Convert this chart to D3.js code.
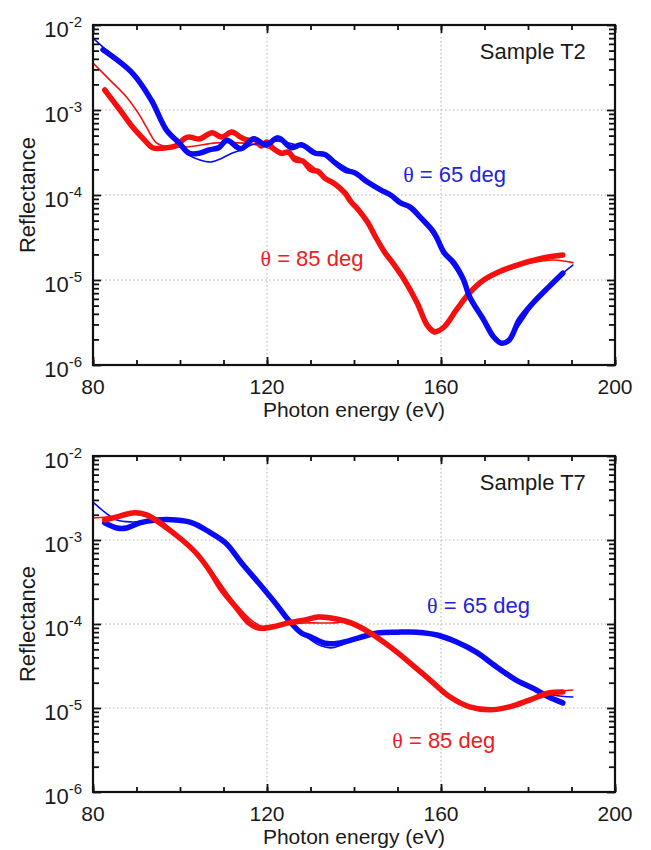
<!DOCTYPE html>
<html>
<head>
<meta charset="utf-8">
<script src="https://cdn.jsdelivr.net/npm/d3@7"></script>
<style>
body { margin: 0; background: #fff; }
text { font-family: "Liberation Sans", Arial, sans-serif; fill: #1a1a1a; }
</style>
</head>
<body>
<div id="chart"></div>
<script>

// axes
var xMajor = [80, 120, 160, 200];
var xMinor = d3.range(80, 201, 10);
var yMajor = [1e-6, 1e-5, 1e-4, 1e-3, 1e-2];
var yExp = ["-6", "-5", "-4", "-3", "-2"];

// Sample T2  -- [photon energy (eV), reflectance]
var t2_65_meas = [[82.3,5.1e-3],[89.1,2.7e-3],[93.4,1.31e-3],[96.9,5.8e-4],[99.8,4.1e-4],[102.1,3.1e-4],
  [104.4,3.1e-4],[106.7,3.4e-4],[108.9,3.6e-4],[110.8,4.4e-4],[114.0,3.5e-4],[116.9,4.6e-4],[119.7,3.9e-4],
  [122.6,4.7e-4],[125.6,3.6e-4],[127.9,3.9e-4],[131.1,3.1e-4],[133.3,3.0e-4],[135.6,2.4e-4],[137.9,1.97e-4],
  [140.2,1.82e-4],[143.1,1.42e-4],[146.1,1.15e-4],[148.4,1.0e-4],[150.7,8.1e-5],[152.9,7.2e-5],[155.2,5.5e-5],
  [158.4,3.6e-5],[160.7,2.1e-5],[163.0,1.58e-5],[165.2,1.0e-5],[166.6,6.3e-6],[169.8,3.4e-6],[172.1,2.14e-6],
  [173.9,1.8e-6],[175.7,1.97e-6],[178.0,3.4e-6],[181.2,5.4e-6],[184.8,8.3e-6],[188.0,1.2e-5]];
var t2_65_fit = [[80,7.0e-3],[82.3,5.5e-3],[89.1,2.8e-3],[93.4,1.35e-3],[96.9,6.2e-4],[99.8,4.1e-4],
  [102.1,2.95e-4],[104.4,2.6e-4],[107.3,2.45e-4],[109.6,2.7e-4],[111.9,3.1e-4],[114.2,3.4e-4],[116.5,3.9e-4],
  [118.7,4.1e-4],[122.6,4.3e-4],[127.9,3.7e-4],[133.3,2.9e-4],[140.2,1.82e-4],[148.4,1.0e-4],[155.2,5.5e-5],
  [160.7,2.1e-5],[165.2,9.5e-6],[169.8,3.2e-6],[172.8,2.0e-6],[175.0,1.87e-6],[178.0,2.95e-6],[181.9,5.8e-6],
  [185.7,9.5e-6],[190.3,1.5e-5]];
var t2_85_meas = [[82.7,1.72e-3],[86.2,1.0e-3],[89.1,6.3e-4],[91.9,4.4e-4],[93.7,3.6e-4],[96.9,3.6e-4],
  [99.1,3.8e-4],[101.0,4.6e-4],[102.1,4.8e-4],[104.4,4.57e-4],[107.4,5.4e-4],[109.6,4.8e-4],[111.9,5.5e-4],
  [114.2,4.7e-4],[115.8,4.4e-4],[117.2,4.5e-4],[118.7,3.77e-4],[119.9,4.2e-4],[121.5,3.5e-4],[123.3,3.1e-4],
  [124.9,3.2e-4],[126.5,2.6e-4],[128.3,2.5e-4],[130.1,1.97e-4],[131.7,1.9e-4],[133.3,1.58e-4],[135.6,1.35e-4],
  [137.9,1.06e-4],[139.3,8.3e-5],[140.9,6.8e-5],[143.1,4.8e-5],[144.7,3.4e-5],[147.0,2.14e-5],[148.4,1.72e-5],
  [151.6,1.0e-5],[154.5,5.4e-6],[156.8,2.95e-6],[158.4,2.45e-6],[160.7,2.8e-6],[163.6,4.5e-6],[166.6,7.1e-6],
  [169.8,1.0e-5],[174.4,1.32e-5],[178.9,1.58e-5],[183.5,1.82e-5],[188.0,1.97e-5]];
var t2_85_fit = [[80,3.57e-3],[83.9,2.25e-3],[87.7,1.42e-3],[90.7,8.7e-4],[92.3,6.3e-4],[94.6,4.1e-4],
  [96.9,3.7e-4],[102.1,3.7e-4],[108.3,4.1e-4],[113.5,4.1e-4],[117.4,3.9e-4],[123.3,3.2e-4],[128.3,2.6e-4],
  [133.3,1.63e-4],[137.9,1.08e-4],[140.9,7.0e-5],[144.7,3.5e-5],[148.4,1.8e-5],[151.6,1.03e-5],[154.5,5.5e-6],
  [156.8,3.2e-6],[158.6,2.6e-6],[160.7,2.9e-6],[163.6,4.5e-6],[169.8,9.5e-6],[178.9,1.5e-5],[185.7,1.72e-5],
  [190.3,1.6e-5]];

// Sample T7
var t7_65_meas = [[82.7,1.6e-3],[85.5,1.39e-3],[87.7,1.39e-3],[90.7,1.6e-3],[94.6,1.73e-3],[99.1,1.73e-3],
  [102.8,1.6e-3],[106.7,1.25e-3],[110.5,9.2e-4],[114.2,5.3e-4],[118.1,3.08e-4],[121.9,1.78e-4],[124.9,1.12e-4],
  [127.9,7.8e-5],[130.1,7.0e-5],[133.3,5.9e-5],[136.3,5.9e-5],[140.9,6.8e-5],[145.4,7.8e-5],[150.0,8.0e-5],
  [154.5,8.0e-5],[159.1,7.4e-5],[163.6,6.1e-5],[168.2,4.6e-5],[172.8,3.08e-5],[177.3,2.15e-5],[181.9,1.64e-5],
  [184.8,1.35e-5],[188.0,1.15e-5]];
var t7_65_fit = [[80,2.83e-3],[82.7,2.15e-3],[85.5,1.73e-3],[89.1,1.64e-3],[94.6,1.68e-3],[102.8,1.6e-3],
  [110.5,9.2e-4],[118.1,3.16e-4],[124.9,1.15e-4],[129.5,6.8e-5],[132.4,5.5e-5],[134.7,5.2e-5],[137.0,5.6e-5],
  [140.9,6.8e-5],[145.4,7.8e-5],[150.0,8.0e-5],[154.5,8.0e-5],[159.1,7.4e-5],[163.6,6.1e-5],[168.2,4.6e-5],
  [172.8,3.08e-5],[177.3,2.15e-5],[181.9,1.64e-5],[186.0,1.42e-5],[190.3,1.35e-5]];
var t7_85_meas = [[82.7,1.73e-3],[85.5,1.88e-3],[89.1,2.1e-3],[92.3,1.99e-3],[96.0,1.51e-3],[100.5,1.0e-3],
  [103.7,7.0e-4],[106.7,4.4e-4],[109.6,2.54e-4],[112.8,1.59e-4],[115.8,1.03e-4],[118.1,8.95e-5],[121.0,9.2e-5],
  [124.9,1.03e-4],[128.8,1.12e-4],[131.7,1.21e-4],[134.7,1.18e-4],[139.3,1.03e-4],[143.8,7.8e-5],[148.4,5.3e-5],
  [152.9,3.43e-5],[157.5,2.15e-5],[162.1,1.35e-5],[166.6,1.03e-5],[171.2,9.5e-6],[175.7,1.03e-5],[180.3,1.24e-5],
  [184.8,1.51e-5],[188.0,1.55e-5]];
var t7_85_fit = [[80,1.83e-3],[85.5,1.93e-3],[90.7,2.15e-3],[95.3,1.73e-3],[100.5,1.0e-3],[106.7,4.6e-4],
  [112.8,1.73e-4],[116.9,1.06e-4],[120.3,8.95e-5],[124.9,1.0e-4],[129.5,1.03e-4],[135.6,1.03e-4],[138.6,1.06e-4],
  [143.8,7.8e-5],[148.4,5.3e-5],[152.9,3.43e-5],[157.5,2.15e-5],[162.1,1.35e-5],[166.6,1.03e-5],[171.2,9.7e-6],
  [175.7,1.05e-5],[180.3,1.3e-5],[185.7,1.55e-5],[190.3,1.64e-5]];

var blue = "#0a0af5", red = "#f51010";

var panels = [
  {top: 25, bottom: 365, name: "Sample T2", nameAt: [193.3, 4.0e-3],
   series: [
     {data: t2_85_fit, color: red, w: 1.6},
     {data: t2_85_meas, color: red, w: 5.5},
     {data: t2_65_fit, color: blue, w: 1.6},
     {data: t2_65_meas, color: blue, w: 5.5}],
   notes: [{t: "65", at: [151.3, 1.42e-4], color: "#2323d8"},
           {t: "85", at: [118.5, 1.46e-5], color: "#e82024"}]},
  {top: 456, bottom: 792, name: "Sample T7", nameAt: [193.3, 3.9e-3],
   series: [
     {data: t7_65_fit, color: blue, w: 1.6},
     {data: t7_65_meas, color: blue, w: 5.5},
     {data: t7_85_fit, color: red, w: 1.6},
     {data: t7_85_meas, color: red, w: 5.5}],
   notes: [{t: "65", at: [156.8, 1.35e-4], color: "#2323d8"},
           {t: "85", at: [148.8, 3.34e-6], color: "#e82024"}]}
];

var left = 93, right = 615;

var svg = d3.select("#chart").append("svg")
    .attr("width", 651)
    .attr("height", 850);

panels.forEach(draw_panel);

function draw_panel(p) {
    var x = d3.scaleLinear().domain([80, 200]).range([left, right]);
    var y = d3.scaleLog().domain([1e-6, 1e-2]).range([p.bottom, p.top]);
    var g = svg.append("g");

    // grid
    g.selectAll(".gx").data(xMajor.slice(1, -1)).enter().append("line")
        .attr("x1", x).attr("x2", x)
        .attr("y1", p.top).attr("y2", p.bottom)
        .attr("stroke", "#b0b0b0").attr("stroke-width", 1)
        .attr("stroke-dasharray", "1.5,2.5");
    g.selectAll(".gy").data(yMajor.slice(1, -1)).enter().append("line")
        .attr("y1", y).attr("y2", y)
        .attr("x1", left).attr("x2", right)
        .attr("stroke", "#b0b0b0").attr("stroke-width", 1)
        .attr("stroke-dasharray", "1.5,2.5");

    // curves
    var line = d3.line()
        .x(function(d) { return x(d[0]); })
        .y(function(d) { return y(d[1]); })
        .curve(d3.curveCatmullRom.alpha(0.5));
    p.series.forEach(function(s) {
        g.append("path")
            .attr("d", line(s.data))
            .attr("fill", "none")
            .attr("stroke", s.color)
            .attr("stroke-width", s.w)
            .attr("stroke-linejoin", "round")
            .attr("stroke-linecap", "round");
    });

    // ticks, all pointing inward
    var yMinor = [];
    yMajor.slice(0, -1).forEach(function(v) {
        for (var k = 2; k < 10; k++) yMinor.push(v * k);
    });
    var axes = [
        [d3.axisBottom(x).tickValues(xMajor).tickSize(-8), "translate(0," + p.bottom + ")"],
        [d3.axisBottom(x).tickValues(xMinor).tickSize(-5), "translate(0," + p.bottom + ")"],
        [d3.axisTop(x).tickValues(xMajor).tickSize(-8), "translate(0," + p.top + ")"],
        [d3.axisTop(x).tickValues(xMinor).tickSize(-5), "translate(0," + p.top + ")"],
        [d3.axisLeft(y).tickValues(yMajor).tickSize(-8), "translate(" + left + ",0)"],
        [d3.axisLeft(y).tickValues(yMinor).tickSize(-6), "translate(" + left + ",0)"],
        [d3.axisRight(y).tickValues(yMajor).tickSize(-8), "translate(" + right + ",0)"],
        [d3.axisRight(y).tickValues(yMinor).tickSize(-6), "translate(" + right + ",0)"]
    ];
    axes.forEach(function(a) {
        var ax = g.append("g").attr("transform", a[1])
            .call(a[0].tickFormat("").tickSizeOuter(0));
        ax.select(".domain").remove();
        ax.selectAll(".tick line").attr("stroke", "#111").attr("stroke-width", 1.8);
    });

    // frame
    g.append("rect")
        .attr("x", left).attr("y", p.top)
        .attr("width", right - left).attr("height", p.bottom - p.top)
        .attr("fill", "none").attr("stroke", "#111").attr("stroke-width", 2.2);

    // tick labels
    g.selectAll(".xl").data(xMajor).enter().append("text")
        .attr("x", x).attr("y", p.bottom + 29)
        .attr("text-anchor", "middle")
        .attr("font-size", 21)
        .text(function(d) { return d; });
    var yl = g.selectAll(".yl").data(yMajor).enter().append("text")
        .attr("x", 82).attr("y", function(d) { return y(d) + 12; })
        .attr("text-anchor", "end")
        .attr("font-size", 22);
    yl.append("tspan").text("10");
    yl.append("tspan").attr("dy", -10).attr("font-size", 15)
        .text(function(d, i) { return yExp[i]; });

    // axis titles
    g.append("text")
        .attr("x", (left + right) / 2).attr("y", p.bottom + 52)
        .attr("text-anchor", "middle").attr("font-size", 21)
        .text("Photon energy (eV)");
    g.append("text")
        .attr("transform", "translate(35," + (p.top + p.bottom) / 2 + ") rotate(-90)")
        .attr("text-anchor", "middle").attr("font-size", 22)
        .text("Reflectance");

    // annotations
    g.append("text")
        .attr("x", x(p.nameAt[0])).attr("y", y(p.nameAt[1]))
        .attr("text-anchor", "end").attr("font-size", 22)
        .text(p.name);
    p.notes.forEach(function(n) {
        var t = g.append("text")
            .attr("x", x(n.at[0])).attr("y", y(n.at[1]))
            .attr("font-size", 22)
            .style("fill", n.color);
        t.append("tspan").style("font-family", "'Liberation Serif', serif").style("fill", n.color).text("\u03b8");
        t.append("tspan").style("fill", n.color).text(" = " + n.t + " deg");
    });
}
</script>
</body>
</html>
